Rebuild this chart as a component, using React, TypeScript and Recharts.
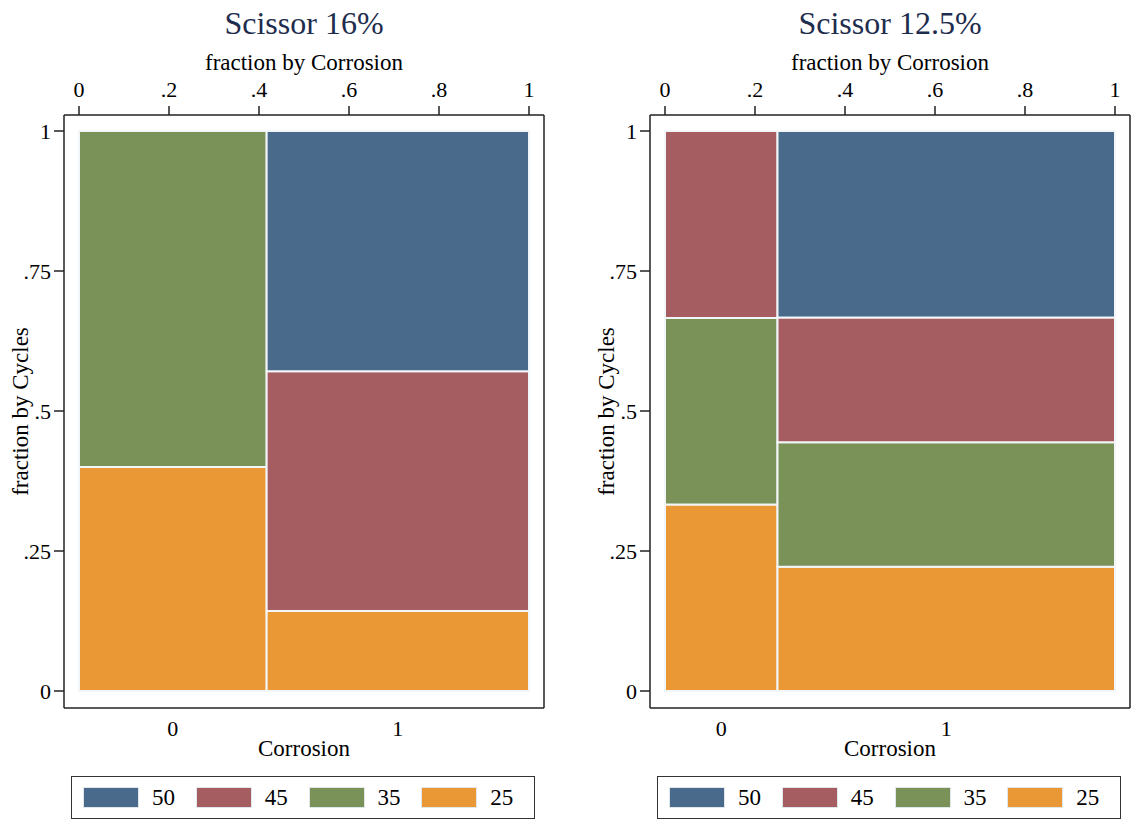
import React from 'react';
import { ComposedChart, XAxis, YAxis, ReferenceArea } from 'recharts';

// categories
const corrosionLevels = ['0', '1'];
const cycleLevels = ['25', '35', '45', '50']; // stacked bottom -> top
const legendOrder = ['50', '45', '35', '25'];
const cycleColors: Record<string, string> = {
  '50': '#496a8b',
  '45': '#a65d61',
  '35': '#7a9157',
  '25': '#e99835',
};

// Scissor 16%
const share16 = [0.417, 0.583];
const cond16 = [
  [0.4, 0.6, 0, 0],
  [0.143, 0, 0.428, 0.429],
];

// Scissor 12.5%
const share125 = [0.25, 0.75];
const cond125 = [
  [0.333, 0.333, 0.334, 0],
  [0.222, 0.222, 0.223, 0.333],
];

const xTicks = [0, 0.2, 0.4, 0.6, 0.8, 1];
const yTicks = [0, 0.25, 0.5, 0.75, 1];

const FONT = '"Liberation Serif", "Times New Roman", serif';
const fmt = (v: number) => (v === 0 ? '0' : v === 1 ? '1' : String(v).replace(/^0/, ''));

function buildRects(share: number[], cond: number[][]) {
  const rects: any[] = [];
  let x0 = 0;
  share.forEach((s, c) => {
    let y0 = 0;
    cond[c].forEach((f, k) => {
      if (f > 0) rects.push({ x1: x0, x2: x0 + s, y1: y0, y2: y0 + f, level: cycleLevels[k] });
      y0 += f;
    });
    x0 += s;
  });
  return rects;
}

function midpoints(share: number[]) {
  const out: number[] = [];
  let x0 = 0;
  share.forEach(s => { out.push(x0 + s / 2); x0 += s; });
  return out;
}

function Panel({ title, share, cond, left }: { title: string; share: number[]; cond: number[][]; left: number }) {
  const rects = buildRects(share, cond);
  const mids = midpoints(share);
  const tickTxt = { fontSize: 22, fill: '#000', fontFamily: FONT };
  return (
    <div style={{ position: 'absolute', left, top: 0, width: 565, height: 822 }}>
      <div style={{
        position: 'absolute', left: 0, width: 608, top: 6, textAlign: 'center',
        fontFamily: FONT, fontSize: 32, lineHeight: '34px', color: '#1e2c4e',
      }}>{title}</div>
      <ComposedChart width={565} height={822} data={rects}
        margin={{ top: 50, right: 20, bottom: 64, left: 8 }} style={{ fontFamily: FONT }}>
        <XAxis xAxisId="top" dataKey="x1" orientation="top" type="number" domain={[0, 1]} ticks={xTicks}
          allowDataOverflow tickFormatter={fmt} padding={{ left: 15, right: 15 }} height={65}
          tickSize={9} tickMargin={9} tick={tickTxt}
          axisLine={{ stroke: '#222', strokeWidth: 1.5 }} tickLine={{ stroke: '#222', strokeWidth: 1.5 }}
          label={{ value: 'fraction by Corrosion', position: 'insideTop', offset: 4, fontSize: 23, fill: '#000' }} />
        <XAxis xAxisId="bottom" dataKey="x2" orientation="bottom" type="number" domain={[0, 1]} ticks={mids}
          allowDataOverflow
          tickFormatter={(v: number) => corrosionLevels[mids.indexOf(v)] ?? ''}
          padding={{ left: 15, right: 15 }} height={50} tickSize={0} tickMargin={12}
          tickLine={false} tick={tickTxt}
          axisLine={{ stroke: '#222', strokeWidth: 1.5 }}
          label={{ value: 'Corrosion', position: 'insideBottom', offset: 2, fontSize: 23, fill: '#000' }} />
        <YAxis yAxisId="left" dataKey="y2" type="number" domain={[0, 1]} ticks={yTicks} tickFormatter={fmt}
          allowDataOverflow
          padding={{ top: 16, bottom: 17 }} width={56} tickSize={10} tickMargin={3} tick={tickTxt}
          axisLine={{ stroke: '#222', strokeWidth: 1.5 }} tickLine={{ stroke: '#222', strokeWidth: 1.5 }}
          label={{ value: 'fraction by Cycles', angle: -90, position: 'insideLeft', offset: 12,
            fontSize: 23, fill: '#000', style: { textAnchor: 'middle' } }} />
        <YAxis yAxisId="right" dataKey="y1" orientation="right" type="number" domain={[0, 1]}
          allowDataOverflow
          padding={{ top: 16, bottom: 17 }} width={1} tick={false} tickLine={false}
          axisLine={{ stroke: '#222', strokeWidth: 1.5 }} />
        {rects.map((r, i) => (
          <ReferenceArea key={i} xAxisId="top" yAxisId="left"
            x1={r.x1} x2={r.x2} y1={r.y1} y2={r.y2}
            fill={cycleColors[r.level]} fillOpacity={1}
            stroke="#f2f6f8" strokeWidth={2} ifOverflow="visible" />
        ))}
      </ComposedChart>
      <div style={{
        position: 'absolute', left: 71, top: 776, width: 464, height: 43, boxSizing: 'border-box',
        border: '1.5px solid #333', display: 'flex', alignItems: 'center', paddingLeft: 11,
        fontFamily: FONT, fontSize: 23, color: '#000',
      }}>
        {legendOrder.map(l => (
          <div key={l} style={{ width: 118, display: 'flex', alignItems: 'center' }}>
            <div style={{ width: 56, height: 21, background: cycleColors[l], border: '1px solid #dfe7ec', boxSizing: 'border-box' }} />
            <span style={{ marginLeft: 13 }}>{l}</span>
          </div>
        ))}
      </div>
    </div>
  );
}

export default function App() {
  return (
    <div style={{ position: 'absolute', left: 0, top: 0, width: 1131, height: 822, background: '#fff', overflow: 'hidden' }}>
      <Panel title="Scissor 16%" share={share16} cond={cond16} left={0} />
      <Panel title="Scissor 12.5%" share={share125} cond={cond125} left={586} />
    </div>
  );
}
